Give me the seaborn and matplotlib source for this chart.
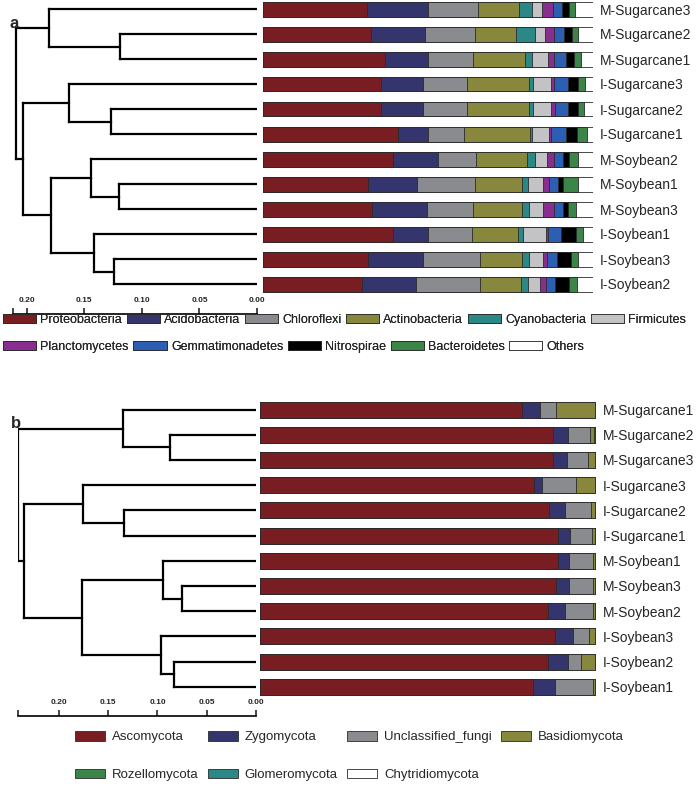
import matplotlib
matplotlib.use('Agg')
import matplotlib.pyplot as plt
from matplotlib.patches import Patch
import numpy as np
import pandas as pd
import seaborn as sns

# ---- panel a: bacterial phyla (% relative abundance) ----
samples_a = ['M-Sugarcane3', 'M-Sugarcane2', 'M-Sugarcane1', 'I-Sugarcane3',
             'I-Sugarcane2', 'I-Sugarcane1', 'M-Soybean2', 'M-Soybean1',
             'M-Soybean3', 'I-Soybean1', 'I-Soybean3', 'I-Soybean2']
proteobacteria = [31.5, 32.7, 37.0, 35.8, 35.8, 40.9, 39.4, 31.8, 33.0, 39.4, 31.8, 30.0]
acidobacteria = [18.5, 16.4, 13.0, 12.7, 12.7, 9.1, 13.6, 14.8, 16.7, 10.6, 16.7, 16.4]
chloroflexi = [15.2, 15.2, 13.6, 13.3, 13.3, 10.9, 11.5, 17.6, 13.9, 13.3, 17.0, 19.1]
actinobacteria = [12.4, 12.4, 15.5, 18.8, 18.8, 20.0, 15.2, 14.2, 14.8, 13.9, 12.7, 12.4]
cyanobacteria = [3.9, 5.5, 2.4, 1.2, 1.2, 0.6, 2.7, 1.8, 2.1, 1.5, 2.1, 2.1]
firmicutes = [3.0, 3.3, 4.8, 5.5, 5.5, 5.2, 3.6, 4.5, 4.2, 7.0, 4.5, 3.9]
planctomycetes = [3.3, 2.7, 1.8, 0.9, 1.2, 0.6, 2.1, 1.8, 3.3, 0.6, 1.2, 1.8]
gemmatimonadetes = [2.7, 3.0, 3.6, 4.2, 3.9, 4.5, 2.7, 2.7, 2.7, 3.9, 3.0, 2.7]
nitrospirae = [2.1, 2.4, 2.4, 3.0, 3.0, 3.3, 1.8, 1.5, 1.5, 4.5, 4.2, 4.2]
bacteroidetes = [1.8, 1.8, 2.1, 2.1, 1.8, 3.0, 2.7, 4.5, 2.4, 2.1, 2.1, 2.4]
others = [5.5, 4.5, 3.6, 2.4, 2.7, 1.8, 4.5, 4.5, 5.2, 3.0, 4.5, 4.8]

# dendrogram merges: (child, child, height); leaves 0..11, new nodes from 12
merges_a = [(1, 2, 0.119), (0, 12, 0.181), (4, 5, 0.127), (3, 14, 0.1635),
            (7, 8, 0.120), (6, 16, 0.144), (10, 11, 0.124), (9, 18, 0.142),
            (17, 19, 0.179), (15, 20, 0.203), (13, 21, 0.2096)]

# ---- panel b: fungal phyla ----
samples_b = ['M-Sugarcane1', 'M-Sugarcane2', 'M-Sugarcane3', 'I-Sugarcane3',
             'I-Sugarcane2', 'I-Sugarcane1', 'M-Soybean1', 'M-Soybean3',
             'M-Soybean2', 'I-Soybean3', 'I-Soybean2', 'I-Soybean1']
ascomycota = [78.0, 87.2, 87.2, 81.5, 86.0, 88.7, 88.7, 88.1, 85.7, 87.8, 85.7, 81.2]
zygomycota = [5.4, 4.5, 4.2, 2.4, 4.8, 3.6, 3.3, 3.9, 5.1, 5.4, 6.0, 6.5]
unclassified_fungi = [4.8, 6.5, 6.2, 10.1, 7.7, 6.5, 7.1, 7.1, 8.3, 4.8, 3.9, 11.4]
basidiomycota = [11.5, 1.3, 2.1, 5.7, 1.2, 0.8, 0.6, 0.6, 0.6, 1.8, 4.2, 0.7]
rozellomycota = [0.2, 0.3, 0.2, 0.2, 0.2, 0.2, 0.2, 0.2, 0.2, 0.1, 0.1, 0.1]
glomeromycota = [0.1, 0.1, 0.1, 0.1, 0.1, 0.1, 0.1, 0.1, 0.1, 0.1, 0.1, 0.1]
chytridiomycota = [0.0, 0.1, 0.0, 0.0, 0.0, 0.1, 0.0, 0.0, 0.0, 0.0, 0.0, 0.0]

merges_b = [(1, 2, 0.087), (0, 12, 0.135), (4, 5, 0.134), (3, 14, 0.176),
            (7, 8, 0.0755), (6, 16, 0.094), (10, 11, 0.083), (9, 18, 0.096),
            (17, 19, 0.177), (15, 20, 0.235), (13, 21, 0.2415)]

bact = pd.DataFrame({
    'Proteobacteria': proteobacteria, 'Acidobacteria': acidobacteria,
    'Chloroflexi': chloroflexi, 'Actinobacteria': actinobacteria,
    'Cyanobacteria': cyanobacteria, 'Firmicutes': firmicutes,
    'Planctomycetes': planctomycetes, 'Gemmatimonadetes': gemmatimonadetes,
    'Nitrospirae': nitrospirae, 'Bacteroidetes': bacteroidetes, 'Others': others,
}, index=samples_a)
fungi = pd.DataFrame({
    'Ascomycota': ascomycota, 'Zygomycota': zygomycota,
    'Unclassified_fungi': unclassified_fungi, 'Basidiomycota': basidiomycota,
    'Rozellomycota': rozellomycota, 'Glomeromycota': glomeromycota,
    'Chytridiomycota': chytridiomycota,
}, index=samples_b)

colors_a = ['#781E22', '#34356C', '#8A8B8E', '#87873D', '#2B8887', '#C3C3C5',
            '#872E8E', '#2C5EB3', '#000000', '#3A8547', '#FFFFFF']
colors_b = ['#781E22', '#34356C', '#8A8B8E', '#87873D', '#3A8547', '#2B8887', '#FFFFFF']
EDGE = '#2a2a2a'

sns.set_style('white')
plt.rcParams['font.family'] = ['Liberation Sans', 'DejaVu Sans']

W, H = 696, 794
fig = plt.figure(figsize=(W / 100, H / 100), dpi=100)


def px_axes(left, top, right, bottom):
    return fig.add_axes([left / W, 1 - bottom / H, (right - left) / W, (bottom - top) / H])


def stacked_bars(ax, df, colors, height):
    df = df.div(df.sum(axis=1), axis=0) * 100
    cum = df.cumsum(axis=1)
    names = list(df.index)
    # draw cumulative totals from the outermost segment inwards
    for col, c in reversed(list(zip(df.columns, colors))):
        sns.barplot(x=cum[col].values, y=names, order=names, orient='h',
                    color=c, saturation=1, width=height, edgecolor=EDGE,
                    linewidth=0.6, ax=ax)
    ax.set_xlim(0, 100)
    ax.set_ylim(len(names) - 0.5, -0.5)
    ax.set_xlabel('')
    ax.set_ylabel('')
    ax.set_xticks([])
    ax.yaxis.tick_right()
    ax.tick_params(axis='y', length=0, pad=5, labelsize=10)
    sns.despine(ax=ax, left=True, bottom=True, right=True, top=True)


def dendrogram(ax, merges, n, xmax):
    ypos = {i: float(i) for i in range(n)}
    hpos = {i: 0.0 for i in range(n)}
    for k, (a, b, h) in enumerate(merges):
        node = n + k
        for ch in (a, b):
            ax.plot([hpos[ch], h], [ypos[ch], ypos[ch]], color='black', lw=1.6,
                    solid_capstyle='projecting')
        ax.plot([h, h], [ypos[a], ypos[b]], color='black', lw=1.6,
                solid_capstyle='projecting')
        ypos[node] = (ypos[a] + ypos[b]) / 2
        hpos[node] = h
    ax.set_xlim(xmax, 0)
    ax.set_ylim(n - 0.5, -0.5)
    ax.axis('off')


def scale_bar(ax, xmax):
    ticks = [0.20, 0.15, 0.10, 0.05, 0.00]
    ax.set_xlim(xmax, 0)
    ax.set_yticks([])
    ax.xaxis.set_ticks_position('top')
    ax.set_xticks(ticks)
    ax.set_xticklabels(['%.2f' % v for v in ticks], fontsize=6, fontweight='bold')
    ax.set_xticks([xmax], minor=True)
    ax.tick_params(axis='x', which='both', direction='out', length=4, width=1.2, pad=3)
    for s in ['left', 'right', 'bottom']:
        ax.spines[s].set_visible(False)
    ax.spines['top'].set_linewidth(1.2)
    ax.spines['top'].set_color('black')
    ax.patch.set_alpha(0)


# panel a
ax_bar_a = px_axes(263, -3.5, 593, 296.5)
stacked_bars(ax_bar_a, bact, colors_a, 0.6)
ax_den_a = px_axes(13, -3.5, 257, 296.5)
dendrogram(ax_den_a, merges_a, len(samples_a), 0.212)
scale_bar(px_axes(13, 314, 257, 315), 0.212)
fig.text(10 / W, 1 - 24 / H, 'a', fontsize=12, fontweight='bold', va='center')

# panel b
ax_bar_b = px_axes(260, 397, 596, 699.4)
stacked_bars(ax_bar_b, fungi, colors_b, 0.63)
ax_den_b = px_axes(18, 397, 256, 699.4)
dendrogram(ax_den_b, merges_b, len(samples_b), 0.2415)
scale_bar(px_axes(18, 716, 256, 717), 0.2415)
fig.text(11 / W, 1 - 423 / H, 'b', fontsize=12, fontweight='bold', va='center')

# legends
handles_a = [Patch(facecolor=c, edgecolor=EDGE, linewidth=0.6, label=t)
             for t, c in zip(bact.columns, colors_a)]
leg_kw = dict(frameon=False, handlelength=2.65, handleheight=0.75,
              handletextpad=0.35, columnspacing=0.35, borderpad=0,
              borderaxespad=0, fontsize=9, loc='center left')
leg1 = fig.legend(handles=handles_a[:6], ncol=6, bbox_to_anchor=(3 / W, 1 - 320 / H), **leg_kw)
fig.add_artist(leg1)
leg2 = fig.legend(handles=handles_a[6:], ncol=5, bbox_to_anchor=(3 / W, 1 - 347 / H), **leg_kw)
fig.add_artist(leg2)

handles_b = [Patch(facecolor=c, edgecolor=EDGE, linewidth=0.6, label=t)
             for t, c in zip(fungi.columns, colors_b)]
# legend fills column by column: reorder so entries read row by row
row_order = [0, 4, 1, 5, 2, 6, 3]
fig.legend(handles=[handles_b[i] for i in row_order], ncol=4, frameon=False,
           handlelength=2.3, handleheight=0.75, handletextpad=0.5,
           columnspacing=0.7, labelspacing=1.9, borderpad=0, borderaxespad=0,
           fontsize=9.5, loc='center left', bbox_to_anchor=(75 / W, 1 - 756 / H))

fig.savefig('out.png', dpi=100)
